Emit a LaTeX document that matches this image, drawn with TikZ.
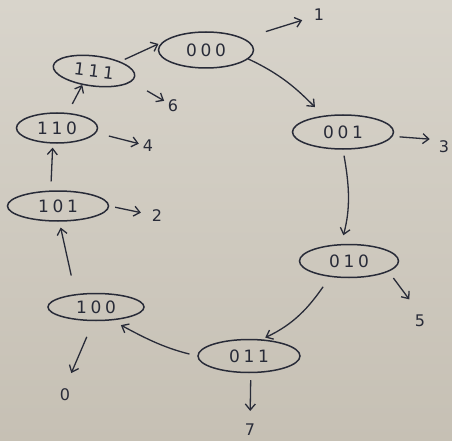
\documentclass[tikz,border=0pt]{standalone}
\usepackage{fontspec}
\newfontfamily\hand[LetterSpace=22]{DejaVu Sans}
\newfontfamily\handl{DejaVu Sans}
\usetikzlibrary{shapes.geometric,arrows.meta}
\definecolor{ink}{RGB}{40,43,56}
\definecolor{paperA}{RGB}{216,212,203}
\definecolor{paperB}{RGB}{198,192,180}
\begin{document}
\begin{tikzpicture}[x=1pt,y=-1pt,
  state/.style={ellipse, draw=ink, line width=1.5pt, inner sep=0pt, text=ink,
    font=\hand\fontsize{17}{17}\selectfont},
  outlbl/.style={text=ink, font=\handl\fontsize{16}{16}\selectfont, inner sep=1pt},
  arr/.style={draw=ink, line width=1.3pt, -{Straight Barb[length=6pt,width=10pt]}}]
\shade[top color=paperA, bottom color=paperB] (0,0) rectangle (452,441);
\useasboundingbox (0,0) rectangle (452,441);

\node[state, minimum width=95pt, minimum height=36pt] (s000) at (206,50) {000};
\node[state, minimum width=82pt, minimum height=30pt, rotate=-7] (s111) at (94,71) {111};
\node[state, minimum width=81pt, minimum height=30pt] (s110) at (57,128) {110};
\node[state, minimum width=101pt, minimum height=30pt] (s101) at (58,206) {101};
\node[state, minimum width=101pt, minimum height=34pt] (s001) at (343,132) {001};
\node[state, minimum width=99pt, minimum height=33pt] (s010) at (349,261) {010};
\node[state, minimum width=96pt, minimum height=27pt] (s100) at (96,307) {100};
\node[state, minimum width=102pt, minimum height=33pt] (s011) at (249,356) {011};

\node[outlbl] (o1) at (319,15) {1};
\node[outlbl] (o6) at (173,106) {6};
\node[outlbl] (o4) at (148,146) {4};
\node[outlbl] (o2) at (157,216) {2};
\node[outlbl] (o3) at (444,147) {3};
\node[outlbl] (o5) at (420,321) {5};
\node[outlbl] (o0) at (65,395) {0};
\node[outlbl] (o7) at (250,430) {7};

% outputs
\draw[arr, shorten <=23pt, shorten >=11pt] (s000.17) -- (o1);
\draw[arr, shorten <=18pt, shorten >=3pt] (s111.-9) -- (o6);
\draw[arr, shorten <=13pt, shorten >=3pt] (s110.-7) -- (o4);
\draw[arr, shorten <=6pt, shorten >=10pt] (s101.east) -- (o2);
\draw[arr, shorten <=7pt, shorten >=8pt] (s001.-5) -- (o3.north west);
\draw[arr, shorten <=8pt, shorten >=18pt] (s010.-15) -- (o5.north);
\draw[arr, shorten <=17pt, shorten >=16pt] (s100.-100) -- (o0.north);
\draw[arr, shorten <=7pt, shorten >=12pt] (s011.-84) -- (o7.north);

% transitions
\draw[arr, shorten <=5pt, shorten >=4pt] (s111.27) -- (s000.170);
\draw[arr, shorten >=12pt] (s000.-12) to[out=-25,in=135] (s001.140);
\draw[arr, shorten <=6pt, shorten >=9pt] (s001.-90) to[out=-80,in=75] (s010.115);
\draw[arr, shorten <=12pt, shorten >=4pt] (s010.-140) to[out=-125,in=25] (s011.53);
\draw[arr, shorten <=8pt, shorten >=10pt] (s011.west) to[out=166,in=-28] (s100.-40);
\draw[arr, shorten <=19pt, shorten >=6pt] (s100.148) -- (s101.-85);
\draw[arr, shorten <=9pt, shorten >=4pt] (s101.115) -- (s110.-105);
\draw[arr, shorten <=10pt] (s110.55) -- (s111.-123);
\end{tikzpicture}
\end{document}
